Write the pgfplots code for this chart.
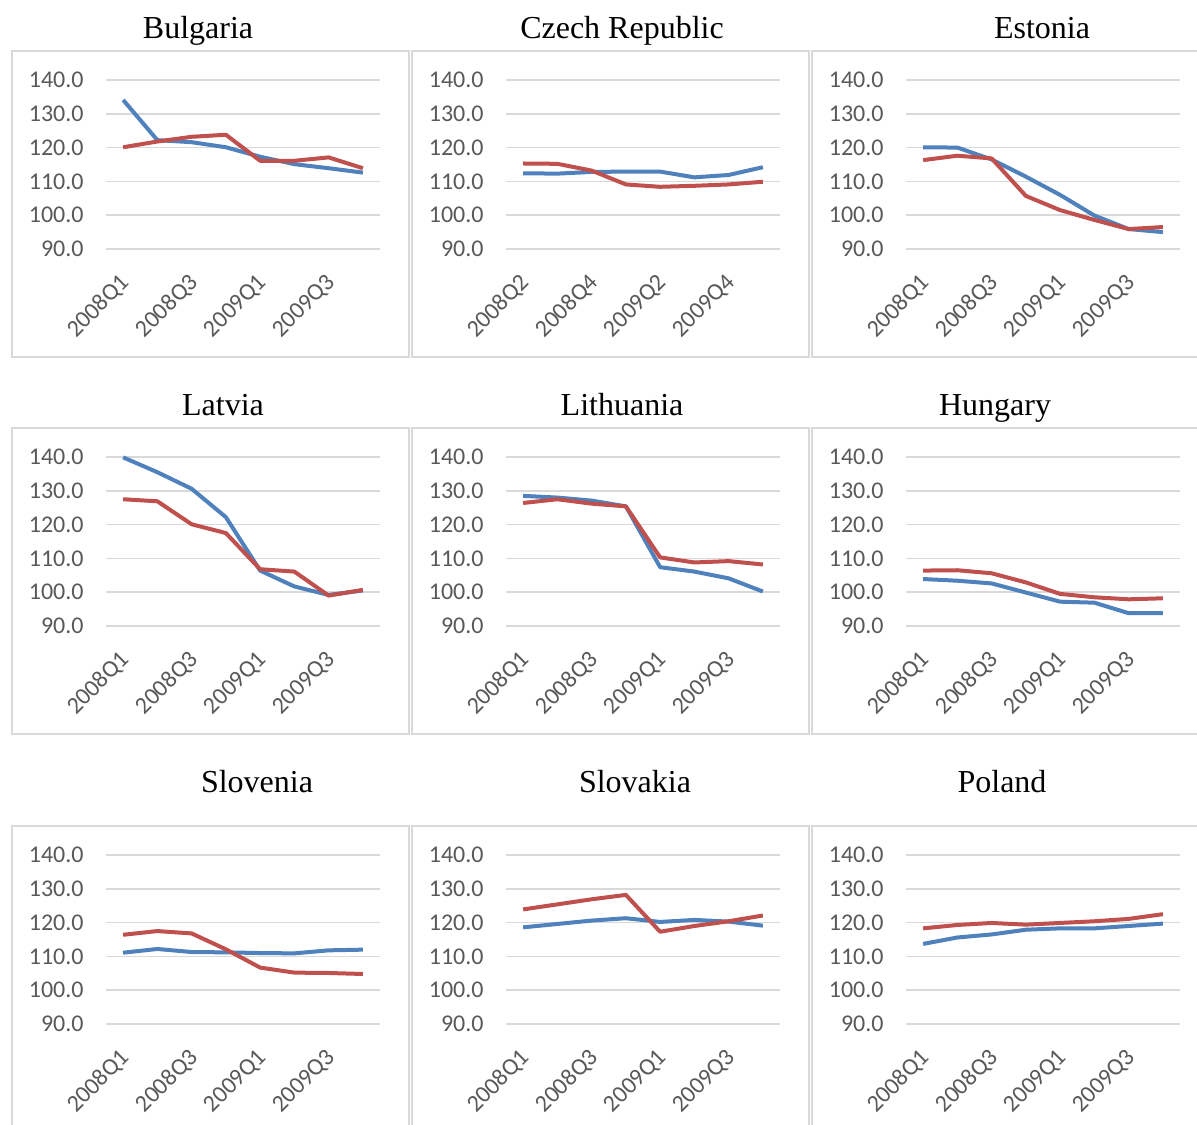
\documentclass[border=0pt]{standalone}
\usepackage{pgfplots}
\pgfplotsset{compat=1.18}
\usepackage{fontspec}
\setmainfont{Liberation Serif}
\newfontfamily\calibri{Carlito}

\definecolor{serblue}{HTML}{4F81BD}
\definecolor{serred}{HTML}{C0504D}
\definecolor{gridgray}{HTML}{D9D9D9}
\definecolor{tickgray}{HTML}{595959}
\definecolor{framegray}{HTML}{D9D9D9}

\pgfplotsset{
  panel/.style={
    scale only axis, width=137pt, height=84.5pt,
    anchor=south west,
    xmin=-0.5, xmax=7.5, ymin=90, ymax=140,
    axis line style={draw=none},
    major tick length=0pt,
    ytick={90,100,...,140},
    ymajorgrids,
    grid style={draw=gridgray, line width=0.75pt},
    xtick={0,2,4,6},
    xticklabels={2008Q1,2008Q3,2009Q1,2009Q3},
    /pgf/number format/assume math mode=true,
    tick label style={font=\calibri\fontsize{12}{14}\selectfont, text=tickgray, inner sep=0pt},
    yticklabel style={anchor=east, xshift=-11pt,
      /pgf/number format/fixed, /pgf/number format/fixed zerofill,
      /pgf/number format/precision=1},
    xticklabel style={xshift=1.5pt, yshift=-15pt, rotate=45, anchor=east},
    clip=false,
  },
  blueline/.style={serblue, line width=2pt, line join=round, no markers},
  redline/.style={serred, line width=2pt, line join=round, no markers},
}

\newcommand{\frameat}[2]{%
  \draw[framegray, line width=0.75pt] (#1,#2) rectangle ++(198.5pt,-153pt);}

\begin{document}
\begin{tikzpicture}
\clip (0,0) rectangle (598.5pt,-562pt);
\fill[white] (0,0) rectangle (598.5pt,-562pt);

% panel frames
\frameat{6pt}{-25.5pt}\frameat{206pt}{-25.5pt}\frameat{406pt}{-25.5pt}
\frameat{6pt}{-214pt}\frameat{206pt}{-214pt}\frameat{406pt}{-214pt}
\frameat{6pt}{-413pt}\frameat{206pt}{-413pt}\frameat{406pt}{-413pt}

% titles
\begin{scope}[every node/.style={anchor=base, font=\fontsize{16}{19}\selectfont, inner sep=0pt}]
\node at (99pt,-19.35pt) {Bulgaria};
\node at (311pt,-19.35pt) {Czech Republic};
\node at (521pt,-19.35pt) {Estonia};
\node at (111.5pt,-207.85pt) {Latvia};
\node at (311pt,-207.85pt) {Lithuania};
\node at (497.5pt,-207.85pt) {Hungary};
\node at (128.5pt,-396.35pt) {Slovenia};
\node at (317.5pt,-396.35pt) {Slovakia};
\node at (501pt,-396.35pt) {Poland};
\end{scope}

% Bulgaria
\begin{axis}[panel, at={(53pt,-124.5pt)}]
\addplot[blueline] coordinates {(0,134.1)(1,122.2)(2,121.6)(3,120.1)(4,117.3)(5,115.1)(6,113.9)(7,112.6)};
\addplot[redline] coordinates {(0,120.1)(1,121.8)(2,123.2)(3,123.8)(4,116.1)(5,116.1)(6,117.1)(7,113.9)};
\end{axis}
% Czech Republic
\begin{axis}[panel, at={(253pt,-124.5pt)}, xticklabels={2008Q2,2008Q4,2009Q2,2009Q4}]
\addplot[blueline] coordinates {(0,112.4)(1,112.3)(2,112.8)(3,112.9)(4,112.9)(5,111.2)(6,111.9)(7,114.2)};
\addplot[redline] coordinates {(0,115.3)(1,115.2)(2,113.2)(3,109.1)(4,108.4)(5,108.7)(6,109.1)(7,109.9)};
\end{axis}
% Estonia
\begin{axis}[panel, at={(453pt,-124.5pt)}]
\addplot[blueline] coordinates {(0,120.1)(1,120.0)(2,116.5)(3,111.4)(4,106.0)(5,99.9)(6,95.9)(7,95.0)};
\addplot[redline] coordinates {(0,116.3)(1,117.6)(2,116.8)(3,105.7)(4,101.5)(5,98.6)(6,95.9)(7,96.5)};
\end{axis}
% Latvia
\begin{axis}[panel, at={(53pt,-313pt)}]
\addplot[blueline] coordinates {(0,139.9)(1,135.5)(2,130.6)(3,122.2)(4,106.4)(5,101.7)(6,99.2)(7,100.5)};
\addplot[redline] coordinates {(0,127.5)(1,126.9)(2,120.1)(3,117.5)(4,106.8)(5,106.1)(6,99.0)(7,100.7)};
\end{axis}
% Lithuania
\begin{axis}[panel, at={(253pt,-313pt)}]
\addplot[blueline] coordinates {(0,128.5)(1,128.0)(2,127.1)(3,125.4)(4,107.4)(5,106.1)(6,104.1)(7,100.2)};
\addplot[redline] coordinates {(0,126.4)(1,127.5)(2,126.2)(3,125.4)(4,110.3)(5,108.8)(6,109.2)(7,108.2)};
\end{axis}
% Hungary
\begin{axis}[panel, at={(453pt,-313pt)}]
\addplot[blueline] coordinates {(0,103.9)(1,103.4)(2,102.6)(3,99.9)(4,97.2)(5,96.9)(6,93.8)(7,93.8)};
\addplot[redline] coordinates {(0,106.4)(1,106.5)(2,105.6)(3,102.9)(4,99.5)(5,98.5)(6,97.9)(7,98.2)};
\end{axis}
% Slovenia
\begin{axis}[panel, at={(53pt,-512pt)}]
\addplot[blueline] coordinates {(0,111.1)(1,112.2)(2,111.3)(3,111.2)(4,111.0)(5,110.9)(6,111.8)(7,112.0)};
\addplot[redline] coordinates {(0,116.4)(1,117.5)(2,116.8)(3,112.1)(4,106.7)(5,105.2)(6,105.1)(7,104.8)};
\end{axis}
% Slovakia
\begin{axis}[panel, at={(253pt,-512pt)}]
\addplot[blueline] coordinates {(0,118.6)(1,119.6)(2,120.6)(3,121.3)(4,120.2)(5,120.8)(6,120.3)(7,119.1)};
\addplot[redline] coordinates {(0,123.9)(1,125.4)(2,126.9)(3,128.2)(4,117.3)(5,119.0)(6,120.4)(7,122.1)};
\end{axis}
% Poland
\begin{axis}[panel, at={(453pt,-512pt)}]
\addplot[blueline] coordinates {(0,113.7)(1,115.6)(2,116.5)(3,117.9)(4,118.3)(5,118.3)(6,119.0)(7,119.7)};
\addplot[redline] coordinates {(0,118.3)(1,119.3)(2,119.9)(3,119.4)(4,119.9)(5,120.4)(6,121.1)(7,122.5)};
\end{axis}
\end{tikzpicture}
\end{document}
